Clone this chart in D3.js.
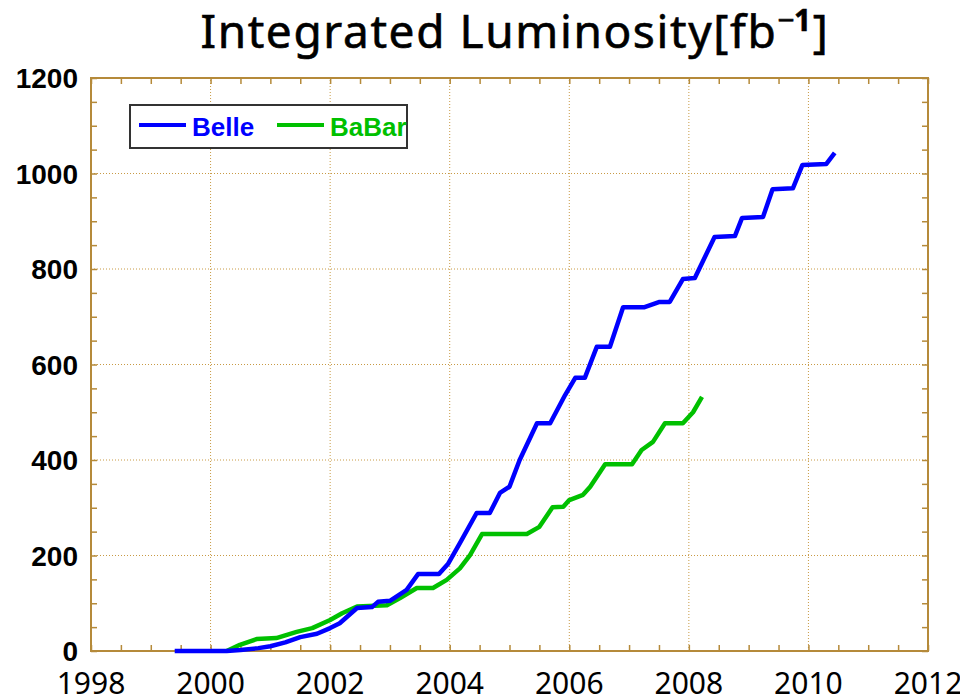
<!DOCTYPE html>
<html>
<head>
<meta charset="utf-8">
<script src="https://cdn.jsdelivr.net/npm/d3@7"></script>
<style>
  body { margin: 0; background: #fff; }
  svg { display: block; }
</style>
</head>
<body>
<div id="chart"></div>
<script>
// data
const belleYears = [1999.40, 2000.27, 2000.50, 2000.80, 2001.00, 2001.25, 2001.50, 2001.78, 2002.00, 2002.16,
    2002.45, 2002.70, 2002.80, 2003.00, 2003.28, 2003.47, 2003.82, 2003.97, 2004.17, 2004.45,
    2004.67, 2004.84, 2005.00, 2005.17, 2005.46, 2005.68, 2005.93, 2006.10, 2006.26, 2006.46,
    2006.68, 2006.90, 2007.26, 2007.51, 2007.68, 2007.90, 2008.10, 2008.18, 2008.43, 2008.77,
    2008.89, 2009.24, 2009.40, 2009.74, 2009.90, 2010.30, 2010.44];
const belleValues = [0, 0, 2, 6, 10, 18, 29, 36, 48, 58,
    90, 92, 103, 105, 128, 161, 161, 182, 226, 289,
    289, 331, 344, 400, 477, 477, 536, 572, 572, 637,
    637, 720, 720, 731, 731, 779, 781, 802, 867, 869,
    907, 909, 967, 969, 1018, 1020, 1043];

const babarYears = [2000.27, 2000.49, 2000.77, 2001.10, 2001.44, 2001.70, 2002.00, 2002.20, 2002.45, 2002.95,
    2003.17, 2003.45, 2003.72, 2003.95, 2004.17, 2004.34, 2004.54, 2005.29, 2005.50, 2005.72,
    2005.90, 2006.00, 2006.23, 2006.35, 2006.60, 2007.05, 2007.21, 2007.40, 2007.60, 2007.90,
    2008.07, 2008.22];
const babarValues = [0, 13, 25, 27, 40, 48, 65, 79, 93, 96,
    111, 132, 132, 149, 173, 201, 245, 245, 260, 301,
    302, 316, 327, 344, 391, 391, 421, 438, 477, 477,
    500, 532];

const xTicks = [1998, 2000, 2002, 2004, 2006, 2008, 2010, 2012];
const yTicks = [0, 200, 400, 600, 800, 1000, 1200];
const seriesNames = ['Belle', 'BaBar'];
const seriesColors = ['#0000ff', '#00c000'];

const width = 960, height = 697;
const margin = {top: 78, right: 32, bottom: 46, left: 91};
const frameColor = '#b58a3a';
const gridColor = '#c89a45';

const svg = d3.select('#chart').append('svg')
    .attr('width', width)
    .attr('height', height);

const x = d3.scaleLinear().domain([1998, 2012]).range([margin.left, width - margin.right]);
const y = d3.scaleLinear().domain([0, 1200]).range([height - margin.bottom, margin.top]);

// gridlines
const grid = svg.append('g');
grid.selectAll('.vgrid').data(xTicks.slice(1, -1)).enter().append('line')
    .attr('x1', d => x(d)).attr('x2', d => x(d))
    .attr('y1', y(0)).attr('y2', y(1200))
    .attr('stroke', gridColor).attr('stroke-width', 1).attr('stroke-dasharray', '1,2');
grid.selectAll('.hgrid').data(yTicks.slice(1, -1)).enter().append('line')
    .attr('x1', x(1998)).attr('x2', x(2012))
    .attr('y1', d => y(d)).attr('y2', d => y(d))
    .attr('stroke', gridColor).attr('stroke-width', 1).attr('stroke-dasharray', '1,2');

// inward ticks on all four sides
const xMinor = d3.range(1998, 2012.01, 0.5);
const yMinor = d3.range(0, 1200.1, 50);
const axes = [
    d3.axisBottom(x).tickValues(xMinor).tickSize(-6),
    d3.axisTop(x).tickValues(xMinor).tickSize(-6),
    d3.axisLeft(y).tickValues(yMinor).tickSize(-6),
    d3.axisRight(y).tickValues(yMinor).tickSize(-6)
];
const translates = [
    `translate(0,${y(0)})`, `translate(0,${y(1200)})`,
    `translate(${x(1998)},0)`, `translate(${x(2012)},0)`
];
axes.forEach((ax, i) => {
    const g = svg.append('g').attr('transform', translates[i]).call(ax.tickFormat(''));
    g.select('.domain').remove();
    g.selectAll('.tick line').attr('stroke', frameColor).attr('stroke-width', 1.5);
});

svg.append('rect')
    .attr('x', x(1998)).attr('y', y(1200))
    .attr('width', x(2012) - x(1998)).attr('height', y(0) - y(1200))
    .attr('fill', 'none').attr('stroke', frameColor).attr('stroke-width', 2);

// tick labels
svg.append('g').selectAll('text').data(xTicks).enter().append('text')
    .attr('x', d => x(d)).attr('y', 694)
    .attr('text-anchor', 'middle')
    .attr('font-family', 'Noto Sans, Open Sans, sans-serif')
    .attr('font-size', 30)
    .attr('fill', '#000')
    .text(d => d);

svg.append('g').selectAll('text').data(yTicks).enter().append('text')
    .attr('x', 78).attr('y', d => y(d))
    .attr('dy', '0.36em')
    .attr('text-anchor', 'end')
    .attr('font-family', 'Liberation Sans, Arial, sans-serif')
    .attr('font-weight', 'bold')
    .attr('font-size', 28)
    .attr('fill', '#000')
    .text(d => d);

// title
const title = svg.append('text')
    .attr('x', 515).attr('y', 48)
    .attr('text-anchor', 'middle')
    .attr('font-family', 'Noto Sans, Open Sans, sans-serif')
    .attr('font-size', 46)
    .attr('letter-spacing', 1.6)
    .attr('fill', '#000')
    .attr('stroke', '#000').attr('stroke-width', 0.6);
title.append('tspan').text('Integrated Luminosity[fb');
title.append('tspan').attr('dy', -17).attr('font-size', 30).text('\u2212');
title.append('tspan').attr('dx', -2).attr('font-size', 30).attr('font-weight', 'bold').text('1');
title.append('tspan').attr('dy', 17).text(']');

// curves
const line = d3.line().x(d => x(d[0])).y(d => y(d[1]));
const series = [
    d3.zip(belleYears, belleValues),
    d3.zip(babarYears, babarValues)
];
// draw BaBar first, Belle on top
[1, 0].forEach(i => {
    svg.append('path')
        .datum(series[i])
        .attr('d', line)
        .attr('fill', 'none')
        .attr('stroke', seriesColors[i])
        .attr('stroke-width', 4.5)
        .attr('stroke-linejoin', 'round');
});

// legend
const legend = svg.append('g');
legend.append('rect')
    .attr('x', 130).attr('y', 105).attr('width', 277).attr('height', 43)
    .attr('fill', '#fff').attr('stroke', '#333').attr('stroke-width', 2);
const legendX = [139, 277];
seriesNames.forEach((name, i) => {
    legend.append('line')
        .attr('x1', legendX[i]).attr('x2', legendX[i] + 47)
        .attr('y1', 125).attr('y2', 125)
        .attr('stroke', seriesColors[i]).attr('stroke-width', 4);
    legend.append('text')
        .attr('x', legendX[i] + 53).attr('y', 136)
        .attr('font-family', 'Liberation Sans, Arial, sans-serif')
        .attr('font-weight', 'bold')
        .attr('font-size', 26)
        .attr('fill', seriesColors[i])
        .text(name);
});
</script>
</body>
</html>
